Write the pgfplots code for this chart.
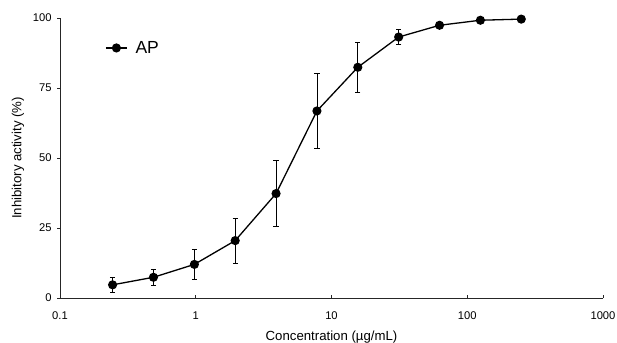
\documentclass[border=0pt]{standalone}
\usepackage{pgfplots}
\pgfplotsset{compat=1.18}
\usepackage{fontspec}
\setmainfont{Liberation Sans}
\begin{document}
\begin{tikzpicture}
\useasboundingbox (-60bp,-45bp) rectangle (557bp,298bp);
\begin{axis}[
  at={(0,0)}, anchor=south west,
  scale only axis, width=543bp, height=280bp,
  xmode=log, log basis x=10,
  xmin=0.1, xmax=1000, ymin=0, ymax=100,
  axis x line=bottom, axis y line=left,
  axis line style={-, line width=0.9bp, black!85},
  xtick={0.1,1,10,100,1000}, xticklabels={0.1,1,10,100,1000},
  ytick={0,25,50,75,100},
  minor xtick={}, minor ytick={},
  tick align=outside, major tick length=3bp,
  tick style={line width=0.8bp, black!85},
  xtick style={yshift=3bp},
  ticklabel style={font=\fontsize{11.2bp}{13bp}\selectfont},
  xticklabel style={yshift=-7bp},
  yticklabel style={xshift=-2bp},
  /pgf/number format/assume math mode=true,
  xlabel={Concentration (µg/mL)},
  ylabel={Inhibitory activity (\%)},
  label style={font=\fontsize{13.2bp}{15bp}\selectfont},
  xlabel style={at={(axis description cs:0.5,0)}, anchor=center, yshift=-39bp},
  ylabel style={at={(axis description cs:0,0.5)}, anchor=center, yshift=42bp},
  legend style={at={(rel axis cs:0.083,0.893)}, anchor=west, draw=none, fill=none,
    font=\fontsize{17.5bp}{19bp}\selectfont, inner sep=0pt},
  legend image code/.code={\draw[mark repeat=2,mark phase=2] plot coordinates {(0bp,0bp) (10.5bp,0bp) (21bp,0bp)};},
  legend cell align=left,
]
\addplot[black, line width=1.3bp, mark=*, mark size=3.9bp,
  error bars/.cd, y dir=both, y explicit,
  error bar style={line width=0.8bp, black},
  error mark options={rotate=90, mark size=2.6bp, line width=0.8bp, black}]
  table[x=x, y=y, y error=e] {
x y e
0.244 4.7 2.8
0.488 7.4 2.8
0.977 12.0 5.3
1.953 20.5 8.0
3.906 37.3 11.8
7.8125 66.8 13.4
15.625 82.4 9.0
31.25 93.2 2.8
62.5 97.4 0
125 99.2 0
250 99.6 0
};
\addlegendentry{\hspace{6bp}AP}
\end{axis}
\end{tikzpicture}
\end{document}
